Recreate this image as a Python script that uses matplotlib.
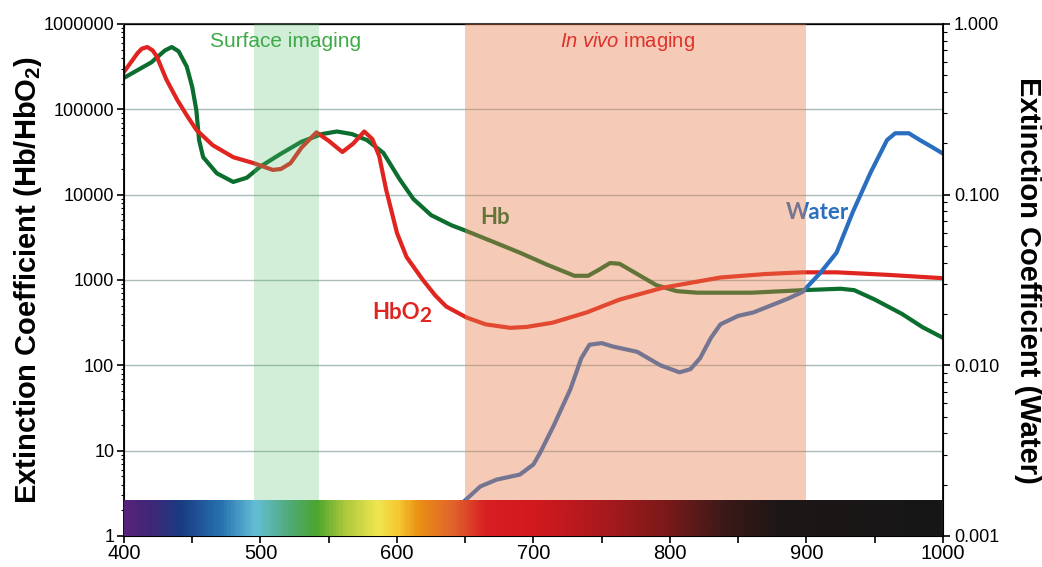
import numpy as np
import matplotlib
matplotlib.use('Agg')
import matplotlib.pyplot as plt
import matplotlib.transforms as mtrans
from matplotlib.colors import LinearSegmentedColormap
from matplotlib.ticker import FuncFormatter, LogLocator, NullFormatter

plt.rcParams['font.family'] = ['Liberation Sans', 'DejaVu Sans']
plt.rcParams['mathtext.fontset'] = 'custom'
plt.rcParams['mathtext.bf'] = 'Liberation Sans:bold'
plt.rcParams['mathtext.rm'] = 'Liberation Sans'
plt.rcParams['mathtext.it'] = 'Liberation Sans:italic'

# wavelength (nm) / extinction coefficient
hb_nm = [400, 420, 430, 435, 440, 446, 450, 453, 455, 458, 468, 480, 490, 500, 515,
         530, 545, 556, 567, 578, 590, 602, 612, 625, 640, 650, 670, 690, 710, 730,
         740, 748, 756, 763, 775, 790, 805, 820, 860, 897, 925, 935, 950, 970, 985, 1000]
hb_val = [234000, 355000, 490000, 537000, 479000, 316000, 182000, 97700, 43600, 27500,
          17800, 14100, 15800, 21400, 30200, 41700, 51300, 55000, 51300, 43600, 30900,
          15100, 8900, 5750, 4370, 3800, 2820, 2090, 1510, 1120, 1120, 1320, 1580, 1550,
          1200, 870, 740, 710, 710, 760, 790, 760, 590, 400, 280, 210]

hbo2_nm = [400, 410, 413, 417, 421, 424, 431, 439, 446, 453, 465, 480, 495, 509, 515,
           522, 530, 541, 550, 560, 568, 576, 582, 587, 592, 600, 607, 619, 628, 636,
           651, 665, 683, 695, 714, 739, 763, 795, 837, 870, 897, 922, 959, 1000]
hbo2_val = [275000, 457000, 513000, 537000, 490000, 417000, 224000, 129000, 85000,
            57500, 38000, 27500, 23400, 19500, 20000, 23400, 35500, 53700, 42700, 31600,
            39800, 55000, 44700, 28200, 11500, 3550, 1860, 1000, 660, 490, 363, 302, 275,
            282, 316, 417, 589, 813, 1070, 1175, 1230, 1230, 1150, 1050]

water_nm = [650, 661, 673, 690, 700, 705, 715, 727, 735, 741, 750, 758, 776, 793, 807,
            815, 822, 830, 837, 850, 861, 886, 897, 910, 922, 934, 947, 959, 965, 975,
            983, 992, 1000]
water_val = [0.00162, 0.00195, 0.00214, 0.00229, 0.00263, 0.00309, 0.00447, 0.00724,
             0.011, 0.0132, 0.0135, 0.0129, 0.012, 0.010, 0.0091, 0.0095, 0.011, 0.0145,
             0.0174, 0.0195, 0.0204, 0.0245, 0.0269, 0.0347, 0.0457, 0.0794, 0.135,
             0.209, 0.229, 0.229, 0.209, 0.19, 0.174]

surface_band = (495, 543)
invivo_band = (650, 900)

# visible spectrum strip colours
spec_nm = [400, 420, 440, 470, 495, 520, 540, 560, 585, 600, 615, 640, 665, 700,
           750, 800, 840, 880, 1000]
spec_col = ['#55237a', '#3c2878', '#193c82', '#2873af', '#64bed7', '#50aa78',
            '#4ba52d', '#aac83c', '#f0e650', '#f5c832', '#eb9114', '#e1642d',
            '#d71e23', '#d2191e', '#aa191e', '#781919', '#3c1919', '#1e1616', '#161618']

fig = plt.figure(figsize=(10.42, 5.67), dpi=100)
ax = fig.add_axes([124 / 1042, 31 / 567, 819 / 1042, 512 / 567])
ax2 = ax.twinx()

# main axis: Hb and HbO2
ax.plot(hb_nm, hb_val, color='#0b6e2e', lw=3, solid_joinstyle='round', zorder=2)
ax.plot(hbo2_nm, hbo2_val, color='#e0241f', lw=3, solid_joinstyle='round', zorder=2)
ax.set_yscale('log')
ax.set_xlim(400, 1000)
ax.set_ylim(1, 1e6)
ax.yaxis.grid(True, which='major', color='#a9bcbc', lw=1)
ax.set_axisbelow(True)

lbl_font = ['Lato', 'DejaVu Sans']
ax.text(672, 5400, 'Hb', color='#0b6e2e', fontsize=16, fontweight='bold',
        family=lbl_font, ha='center', va='center', zorder=2)
ax.text(617, 420, 'HbO', color='#e0241f', fontsize=16, fontweight='bold',
        family=lbl_font, ha='right', va='center', zorder=2)
ax.text(617, 420, '2', color='#e0241f', fontsize=15, fontweight='bold',
        family=lbl_font, ha='left', va='center', zorder=2,
        transform=mtrans.offset_copy(ax.transData, fig=fig, x=-0.5, y=-3, units='points'))

ax.set_xticks([400, 500, 600, 700, 800, 900, 1000])
ax.set_xticks([450, 550, 650, 750, 850, 950], minor=True)
ax.tick_params(axis='x', which='both', direction='out', length=5, width=1.2,
               labelsize=14.5, pad=1)
ax.yaxis.set_major_formatter(FuncFormatter(lambda v, p: '%d' % v))
ax.yaxis.set_minor_formatter(NullFormatter())
ax.tick_params(axis='y', which='major', direction='out', length=5, width=1.2,
               labelsize=13, pad=2)
ax.tick_params(axis='y', which='minor', direction='out', length=2.5, width=0.8)
for s in ['left', 'bottom']:
    ax.spines[s].set_linewidth(1.3)
ax.spines['top'].set_color('#444444')
ax.spines['top'].set_linewidth(1.5)

# twin axis: water, bands, spectrum
ax2.plot(water_nm, water_val, color='#2a6fbf', lw=3, solid_joinstyle='round', zorder=2)
ax2.set_yscale('log')
ax2.set_ylim(1e-3, 1)
ax2.text(908, 0.079, 'Water', color='#2a6fbf', fontsize=16, fontweight='bold',
         family=lbl_font, ha='center', va='center', zorder=2)

ax2.axvspan(*surface_band, color='#5fbf73', alpha=0.28, lw=0, zorder=3)
ax2.axvspan(*invivo_band, color='#e87f4c', alpha=0.4, lw=0, zorder=3)

cmap = LinearSegmentedColormap.from_list(
    'spec', [((n - 400) / 600, c) for n, c in zip(spec_nm, spec_col)])
grad = np.linspace(0, 1, 600)[np.newaxis, :]
ax2.imshow(grad, cmap=cmap, aspect='auto', extent=[400, 1000, 0, 0.072],
           transform=ax2.get_xaxis_transform(), zorder=4, interpolation='bilinear')
ax2.set_xlim(400, 1000)
ax2.set_ylim(1e-3, 1)

ax2.text(518, 0.965, 'Surface imaging', color='#3caa46', fontsize=15,
         ha='center', va='center', transform=ax2.get_xaxis_transform(), zorder=5)
ax2.text(769, 0.965, r'$\it{In\ vivo}$ imaging', color='#e0302a', fontsize=14.5,
         ha='center', va='center', transform=ax2.get_xaxis_transform(), zorder=5)

ax2.yaxis.set_major_locator(LogLocator(base=10, numticks=10))
ax2.yaxis.set_major_formatter(FuncFormatter(lambda v, p: '%.3f' % v))
ax2.yaxis.set_minor_formatter(NullFormatter())
ax2.tick_params(axis='y', which='major', direction='out', length=5, width=1.2,
                labelsize=13, pad=3)
ax2.tick_params(axis='y', which='minor', direction='out', length=3, width=0.8)
ax2.spines['right'].set_linewidth(1.3)

fig.text(0.027, 0.506, r'Extinction Coefficient (Hb/HbO$_\mathbf{2}$)', rotation=90,
         fontsize=21, fontweight='bold', ha='center', va='center')
fig.text(0.987, 0.506, 'Extinction Coefficient (Water)', rotation=270,
         fontsize=21, fontweight='bold', ha='center', va='center')

fig.savefig('out.png', dpi=100)
